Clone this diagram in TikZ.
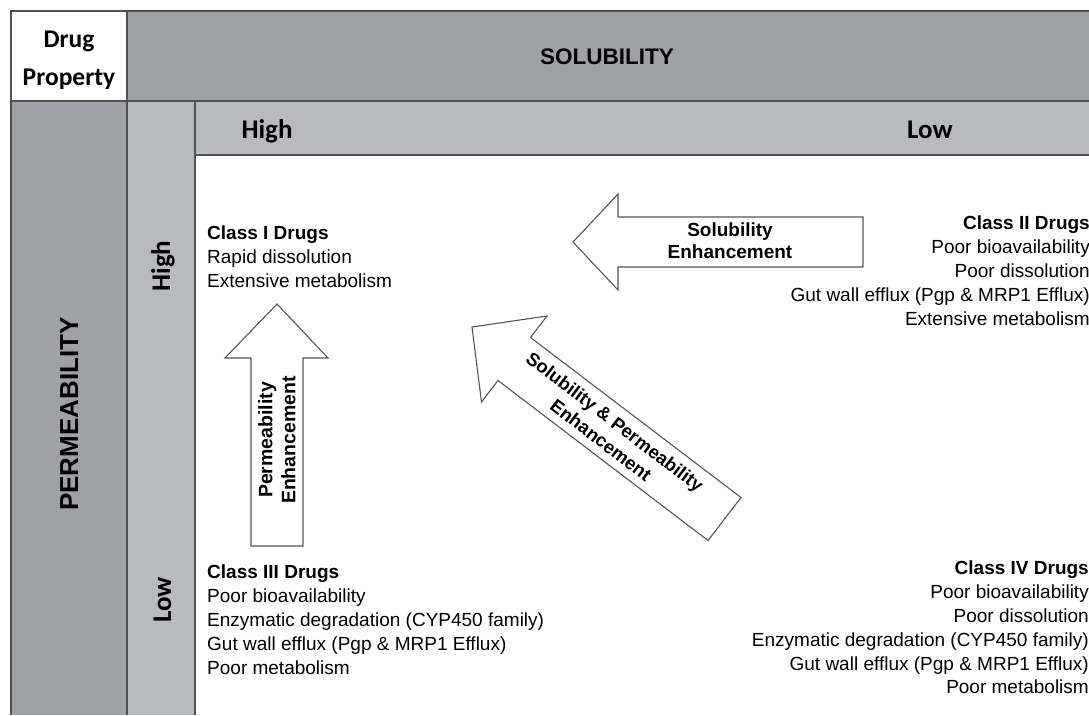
\documentclass[tikz,border=0pt]{standalone}
\usepackage{fontspec}
\setmainfont{Liberation Sans}
\newfontfamily\headfont{Carlito}
\usepackage{tikz}
\definecolor{hdrdark}{HTML}{A0A1A5}
\definecolor{hdrlight}{HTML}{B9BABE}
\definecolor{rulegray}{HTML}{4F5052}
\definecolor{arrowgray}{HTML}{555555}

\begin{document}
\begin{tikzpicture}[x=1pt,y=-1pt,
  gridline/.style={rulegray,line width=1.8pt},
  bigarrow/.style={draw=arrowgray,fill=white,line width=1.1pt,line join=miter},
  bodytext/.style={inner sep=0pt,font=\fontsize{19}{23.8}\selectfont},
  arrowtext/.style={inner sep=0pt,align=center,font=\bfseries\fontsize{19}{22}\selectfont},
  hdrtext/.style={inner sep=0pt,font=\headfont\bfseries\fontsize{27}{30}\selectfont},
  captext/.style={inner sep=0pt,font=\bfseries\fontsize{22.5}{26}\selectfont}]
   \useasboundingbox (0,0) rectangle (1089,715);
   \fill[hdrdark] (127,11) rectangle (1089,101);
   \fill[hdrdark] (11,101) rectangle (127,715);
   \fill[hdrlight] (127,101) rectangle (195,715);
   \fill[hdrlight] (195,101) rectangle (1089,155);
   \draw[gridline] (1089,11) -- (11,11) -- (11,715);
   \draw[gridline] (11,101) -- (1089,101);
   \draw[gridline] (127,11) -- (127,715);
   \draw[gridline] (195,101) -- (195,715);
   \draw[gridline] (195,155) -- (1089,155);
   \node[inner sep=0pt,align=center,font=\headfont\bfseries\fontsize{25.5}{38}\selectfont,anchor=base] (drugprop) at (69,85) {Drug\\Property};
   \node[captext] (solub) at (607,57) {SOLUBILITY};
   \node[captext,font=\bfseries\fontsize{26}{30}\selectfont,rotate=90,anchor=base] (permeab) at (78,414) {PERMEABILITY};
   \node[hdrtext,anchor=base] (solhigh) at (267,138) {High};
   \node[hdrtext,anchor=base] (sollow) at (930,138) {Low};
   \node[hdrtext,rotate=90,anchor=base] (permhigh) at (170,266) {High};
   \node[hdrtext,rotate=90,anchor=base] (permlow) at (171,600) {Low};
   \node[bodytext,align=left,anchor=north west] (classone) at (207,226) {\textbf{Class I Drugs}\\Rapid dissolution\\Extensive metabolism};
   \node[bodytext,align=right,anchor=north east] (classtwo) at (1090,216) {\textbf{Class II Drugs}\\Poor bioavailability\\Poor dissolution\\Gut wall efflux (Pgp \& MRP1 Efflux)\\Extensive metabolism};
   \node[bodytext,align=left,anchor=north west] (classthree) at (207,565) {\textbf{Class III Drugs}\\Poor bioavailability\\Enzymatic degradation (CYP450 family)\\Gut wall efflux (Pgp \& MRP1 Efflux)\\Poor metabolism};
   \node[bodytext,align=right,anchor=north east] (classfour) at (1089,561) {\textbf{Class IV Drugs}\\Poor bioavailability\\Poor dissolution\\Enzymatic degradation (CYP450 family)\\Gut wall efflux (Pgp \& MRP1 Efflux)\\Poor metabolism};
   \draw[bigarrow] (573,242) -- (618,194) -- (618,217) -- (863,217) -- (863,267) -- (618,267) -- (618,290) -- cycle;
   \draw[bigarrow] (277,304) -- (328,358) -- (303,358) -- (303,546) -- (251,546) -- (251,358) -- (225,358) -- cycle;
   \draw[bigarrow] (472,327) -- (547,316) -- (530.5,337.5) -- (741,497.5) -- (708,540.5) -- (498,380.5) -- (481.5,402) -- cycle;
   \node[arrowtext] (soltext) at (730,241) {Solubility\\Enhancement};
   \node[arrowtext,font=\bfseries\fontsize{19.5}{23}\selectfont,rotate=90] (permtext) at (277,440) {Permeability\\Enhancement};
   \node[arrowtext,font=\bfseries\fontsize{18.5}{23}\selectfont,rotate=-37.3] (bothtext) at (608,431) {Solubility \& Permeability\\Enhancement};
\end{tikzpicture}
\end{document}
